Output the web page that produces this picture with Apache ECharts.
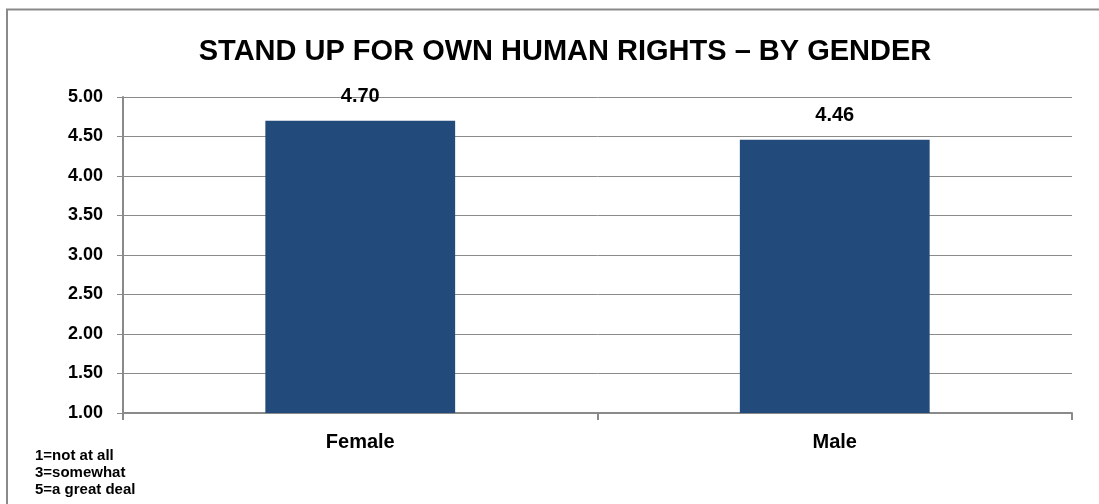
<!DOCTYPE html>
<html><head><meta charset="utf-8">
<script src="https://cdn.jsdelivr.net/npm/echarts@6/dist/echarts.min.js"></script>
<style>html,body{margin:0;padding:0;background:#fff;}#c{width:1099px;height:504px;}</style>
</head><body><div id="c"></div>
<script>
const categories = ["Female", "Male"];
const values = [4.70, 4.46];
const yTicks = { min: 1, max: 5, interval: 0.5 };
const titleText = "STAND UP FOR OWN HUMAN RIGHTS \u2013 BY GENDER";
const noteLines = ["1=not at all", "3=somewhat", "5=a great deal"];

const chart = echarts.init(document.getElementById('c'), null, {renderer: 'canvas'});
const font = '"Liberation Sans", Arial, sans-serif';
chart.setOption({
  animation: false,
  backgroundColor: '#fff',
  title: {
    text: titleText, left: 560, top: 32, textAlign: 'center',
    textStyle: { fontFamily: font, fontWeight: 'bold', fontSize: 29, color: '#000' }
  },
  graphic: [
    { type: 'rect', shape: { x: 7, y: 9.5, width: 1200, height: 600 }, style: { fill: 'none', stroke: '#8a8a8a', lineWidth: 2 } },
    { type: 'text', left: 35, top: 447, style: { text: noteLines.join('\n'), font: 'bold 15px ' + font, fill: '#000', lineHeight: 17 } }
  ],
  grid: { left: 123, right: 27, top: 97, bottom: 91 },
  xAxis: {
    type: 'category', data: categories,
    axisLine: { lineStyle: { color: '#8a8a8a', width: 2 } },
    axisTick: { show: true, length: 7, lineStyle: { color: '#8a8a8a', width: 2 } },
    axisLabel: { fontFamily: font, fontWeight: 'bold', fontSize: 20, color: '#000', margin: 19 }
  },
  yAxis: {
    type: 'value', min: yTicks.min, max: yTicks.max, interval: yTicks.interval,
    axisLine: { show: true, lineStyle: { color: '#8a8a8a', width: 2 } },
    axisTick: { show: true, length: 6, lineStyle: { color: '#8a8a8a', width: 1 } },
    splitLine: { lineStyle: { color: '#8a8a8a', width: 1 } },
    axisLabel: { fontFamily: font, fontWeight: 'bold', fontSize: 18, color: '#000', margin: 20,
      formatter: v => v.toFixed(2) }
  },
  series: [{
    type: 'bar', data: values, barWidth: '40%',
    itemStyle: { color: '#224A7B' },
    label: { show: true, position: 'top', distance: 14, fontFamily: font, fontWeight: 'bold', fontSize: 20, color: '#000',
      formatter: p => p.value.toFixed(2) }
  }]
});
</script></body></html>
